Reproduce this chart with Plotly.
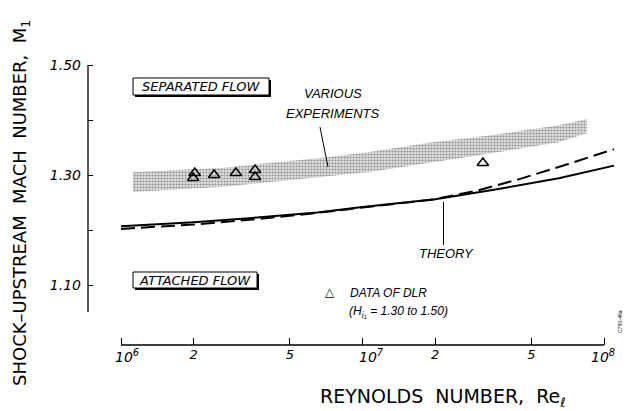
import plotly.graph_objects as go

# ---------------- data ----------------
theory_re = [1e6, 2e6, 3.5e6, 6.5e6, 1e7, 2e7, 3.5e7, 6.5e7, 1.1e8]
theory_m = [1.207, 1.214, 1.222, 1.232, 1.242, 1.256, 1.273, 1.294, 1.317]

dashed_re = [1e6, 2e6, 3.5e6, 6.5e6, 1e7, 2e7, 3e7, 4.5e7, 7e7, 1.1e8]
dashed_m = [1.202, 1.210, 1.219, 1.231, 1.241, 1.256, 1.272, 1.293, 1.319, 1.347]

band_re = [1.12e6, 2.57e6, 6.67e6, 1.07e7, 1.85e7, 3.47e7, 6.58e7, 8.51e7]
band_top = [1.3055, 1.3127, 1.331, 1.3418, 1.358, 1.3727, 1.3909, 1.4018]
band_bot = [1.269, 1.278, 1.2964, 1.3055, 1.3218, 1.340, 1.360, 1.3764]

dlr_re = [2.02e6, 1.99e6, 2.43e6, 2.99e6, 3.59e6, 3.59e6, 3.15e7]
dlr_m = [1.3036, 1.2945, 1.300, 1.3036, 1.309, 1.2964, 1.3218]

x_tickvals = [1e6, 2e6, 5e6, 1e7, 2e7, 5e7, 1e8]
x_ticktext = ["", "<i>2</i>", "<i>5</i>", "", "<i>2</i>", "<i>5</i>", ""]
decade_labels = ["<i>10<sup>6</sup></i>", "<i>10<sup>7</sup></i>", "<i>10<sup>8</sup></i>"]
y_tickvals = [1.10, 1.20, 1.30, 1.40, 1.50]
y_ticktext = ["<i>1.10</i>", "", "<i>1.30</i>", "", "<i>1.50</i>"]

# ---------------- layout geometry ----------------
W, H = 628, 411
L, R, T, B = 88, 6, 60, 66
PW, PH = W - L - R, H - T - B


def fx(px):
    return (px - L) / PW


def fy(py):
    return (H - B - py) / PH


LETTER = "DejaVu Sans"
HELV = "Liberation Sans"

fig = go.Figure()

# stippled band of various experiments
fig.add_trace(go.Scatter(
    x=band_re + band_re[::-1], y=band_top + band_bot[::-1],
    fill="toself", mode="lines", line=dict(width=0, color="rgba(0,0,0,0)"),
    fillcolor="rgba(0,0,0,0)",
    fillpattern=dict(shape=".", fgcolor="#3a3a3a", bgcolor="#e2e2e2",
                     size=3, solidity=0.4),
    showlegend=False, hoverinfo="skip"))

fig.add_trace(go.Scatter(x=dashed_re, y=dashed_m, mode="lines",
                         line=dict(color="black", width=2, dash="14px,6px"),
                         showlegend=False))
fig.add_trace(go.Scatter(x=theory_re, y=theory_m, mode="lines",
                         line=dict(color="black", width=2),
                         showlegend=False))
fig.add_trace(go.Scatter(x=dlr_re, y=dlr_m, mode="markers",
                         marker=dict(symbol="triangle-up-open", size=10,
                                     color="black", line=dict(width=1.5)),
                         showlegend=False))

shapes = []
# axis lines
shapes.append(dict(type="line", xref="paper", yref="paper",
                   x0=0, x1=0, y0=fy(312), y1=fy(65),
                   line=dict(color="black", width=1.3)))
shapes.append(dict(type="line", xref="paper", yref="paper",
                   x0=fx(121), x1=fx(604), y0=0, y1=0,
                   line=dict(color="black", width=1.3)))


def boxed(x0, y0, x1, y1):
    shapes.append(dict(type="rect", xref="paper", yref="paper",
                       x0=fx(x0 + 2), x1=fx(x1 + 2), y0=fy(y0 + 2), y1=fy(y1 + 2),
                       line=dict(width=0), fillcolor="black"))
    shapes.append(dict(type="rect", xref="paper", yref="paper",
                       x0=fx(x0), x1=fx(x1), y0=fy(y0), y1=fy(y1),
                       line=dict(width=1, color="black"), fillcolor="white"))


boxed(133, 78, 269, 95)
boxed(133, 272, 257, 288)

# leader lines
shapes.append(dict(type="line", xref="paper", yref="paper",
                   x0=fx(320), y0=fy(127), x1=fx(328), y1=fy(167),
                   line=dict(color="black", width=1)))
shapes.append(dict(type="line", xref="paper", yref="paper",
                   x0=fx(443.5), y0=fy(245), x1=fx(443.5), y1=fy(202),
                   line=dict(color="black", width=1)))

annotations = []


def txt(text, px, py, size=13, family=HELV, italic=True, angle=0,
        xanchor="center", yanchor="middle"):
    annotations.append(dict(text=text, xref="paper", yref="paper",
                            x=fx(px), y=fy(py), showarrow=False,
                            xanchor=xanchor, yanchor=yanchor, textangle=angle,
                            font=dict(family=family, size=size, color="black",
                                      style="italic" if italic else "normal")))


txt("SEPARATED FLOW", 201, 86.5, size=13, family=LETTER)
txt("ATTACHED FLOW", 195, 280, size=13, family=LETTER)
txt("VARIOUS", 333, 93, size=13)
txt("EXPERIMENTS", 333, 113, size=13)
txt("THEORY", 446, 253, size=13)
txt("\u25B3", 330, 292, size=12, family=LETTER, italic=False)
txt("DATA OF DLR", 348, 293, size=12, xanchor="left")
txt("(H<sub>i<sub>1</sub></sub> = 1.30 to 1.50)", 347, 312, size=12, xanchor="left")
txt("C79S-49a", 620, 322, size=5, italic=False, angle=-90)

# decade labels on x axis
for lab, px in zip(decade_labels, [127, 371, 603]):
    txt(lab, px, 356, size=14, family=LETTER)

# axis titles
txt("SHOCK\u2013UPSTREAM  MACH  NUMBER,  M<sub>1</sub>", 21, 203, size=18,
    family=LETTER, italic=False, angle=-90)
txt("REYNOLDS  NUMBER,  Re<sub>\u2113</sub>", 443, 397, size=19,
    family=LETTER, italic=False)

fig.update_layout(
    width=W, height=H,
    margin=dict(l=L, r=R, t=T, b=B),
    paper_bgcolor="white", plot_bgcolor="white",
    shapes=shapes, annotations=annotations,
    xaxis=dict(type="log", range=[6 - 33 / 241.5, 8 + 18 / 241.5],
               showgrid=False, zeroline=False, showline=False,
               tickvals=x_tickvals, ticktext=x_ticktext,
               ticks="inside", ticklen=7, tickwidth=1.3, tickcolor="black",
               tickfont=dict(family=LETTER, size=13, color="black")),
    yaxis=dict(range=[1.10 - 60 / 550, 1.50 + 5 / 550],
               showgrid=False, zeroline=False, showline=False,
               tickvals=y_tickvals, ticktext=y_ticktext,
               ticks="inside", ticklen=5, tickwidth=1.3, tickcolor="black",
               ticklabelstandoff=6,
               tickfont=dict(family=LETTER, size=14, color="black")),
)

fig.write_html("out.html")
